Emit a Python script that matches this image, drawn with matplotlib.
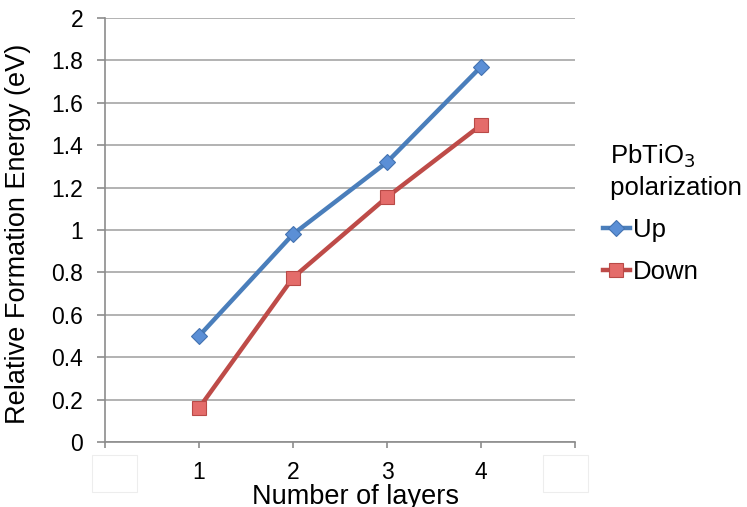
import matplotlib
matplotlib.use("Agg")
import matplotlib.pyplot as plt
from matplotlib.patches import Rectangle

plt.rcParams['font.family'] = ['Liberation Sans', 'DejaVu Sans']

layers = [1, 2, 3, 4]
tick_labels = ["", "1", "2", "3", "4", ""]
energy_up = [0.50, 0.98, 1.32, 1.77]
energy_down = [0.16, 0.775, 1.155, 1.495]

blue_line, blue_face = "#4A7EBB", "#5B8FD6"
red_line, red_face = "#BE4B48", "#E46C6A"

fig = plt.figure(figsize=(7.47, 5.07), dpi=100)
ax = fig.add_axes([105/747, 1-442/507, 470/747, 424/507])

ax.plot(layers, energy_up, color=blue_line, lw=3.2, marker="D", ms=8.5,
        mfc=blue_face, mec="#4372B0", mew=0.8, label="Up", zorder=3)
ax.plot(layers, energy_down, color=red_line, lw=3.2, marker="s", ms=10,
        mfc=red_face, mec="#B94A47", mew=0.8, label="Down", zorder=3)

ax.set_xlim(0, 5)
ax.set_ylim(0, 2)
ax.set_yticks([i * 0.2 for i in range(11)])
ax.set_yticklabels(["0", "0.2", "0.4", "0.6", "0.8", "1", "1.2", "1.4", "1.6", "1.8", "2"])
ax.set_xticks(range(6))
ax.set_xticklabels(tick_labels)

ax.grid(axis="y", color="#A6A6A6", lw=1.2)
ax.set_axisbelow(True)
for s in ["top", "right"]:
    ax.spines[s].set_visible(False)
for s in ["left", "bottom"]:
    ax.spines[s].set_color("#8C8C8C")
    ax.spines[s].set_linewidth(1.2)

ax.tick_params(axis="y", length=5.8, width=1.2, color="#8C8C8C", labelsize=16.5, pad=10)
ax.tick_params(axis="x", length=4, width=1.2, color="#8C8C8C", labelsize=16.5, pad=10)

ax.set_ylabel("Relative Formation Energy (eV)", fontsize=19.5, va="center")
ax.yaxis.set_label_coords((18 - 105) / 470, 0.49)
ax.set_xlabel("Number of layers", fontsize=19.5, va="center")
ax.xaxis.set_label_coords((355 - 105) / 470, (442 - 497) / 424)

# faint boxes around the empty category labels
for x0 in (92, 543):
    fig.patches.append(Rectangle((x0/747, 1-492/507), 45/747, 37/507,
                                 transform=fig.transFigure, fill=False,
                                 ec="#EDEDED", lw=0.8))

leg = ax.legend(loc="upper left", bbox_to_anchor=(599/747, 1-139/507),
                bbox_transform=fig.transFigure, frameon=False,
                title=" PbTiO$_3$\n polarization", fontsize=18.5, title_fontsize=18.5,
                handlelength=1.05, handletextpad=0.12, labelspacing=0.7,
                borderpad=0.15, borderaxespad=0)
leg._legend_box.align = "left"
leg.get_title().set_linespacing(1.3)

fig.savefig("out.png", dpi=100)
